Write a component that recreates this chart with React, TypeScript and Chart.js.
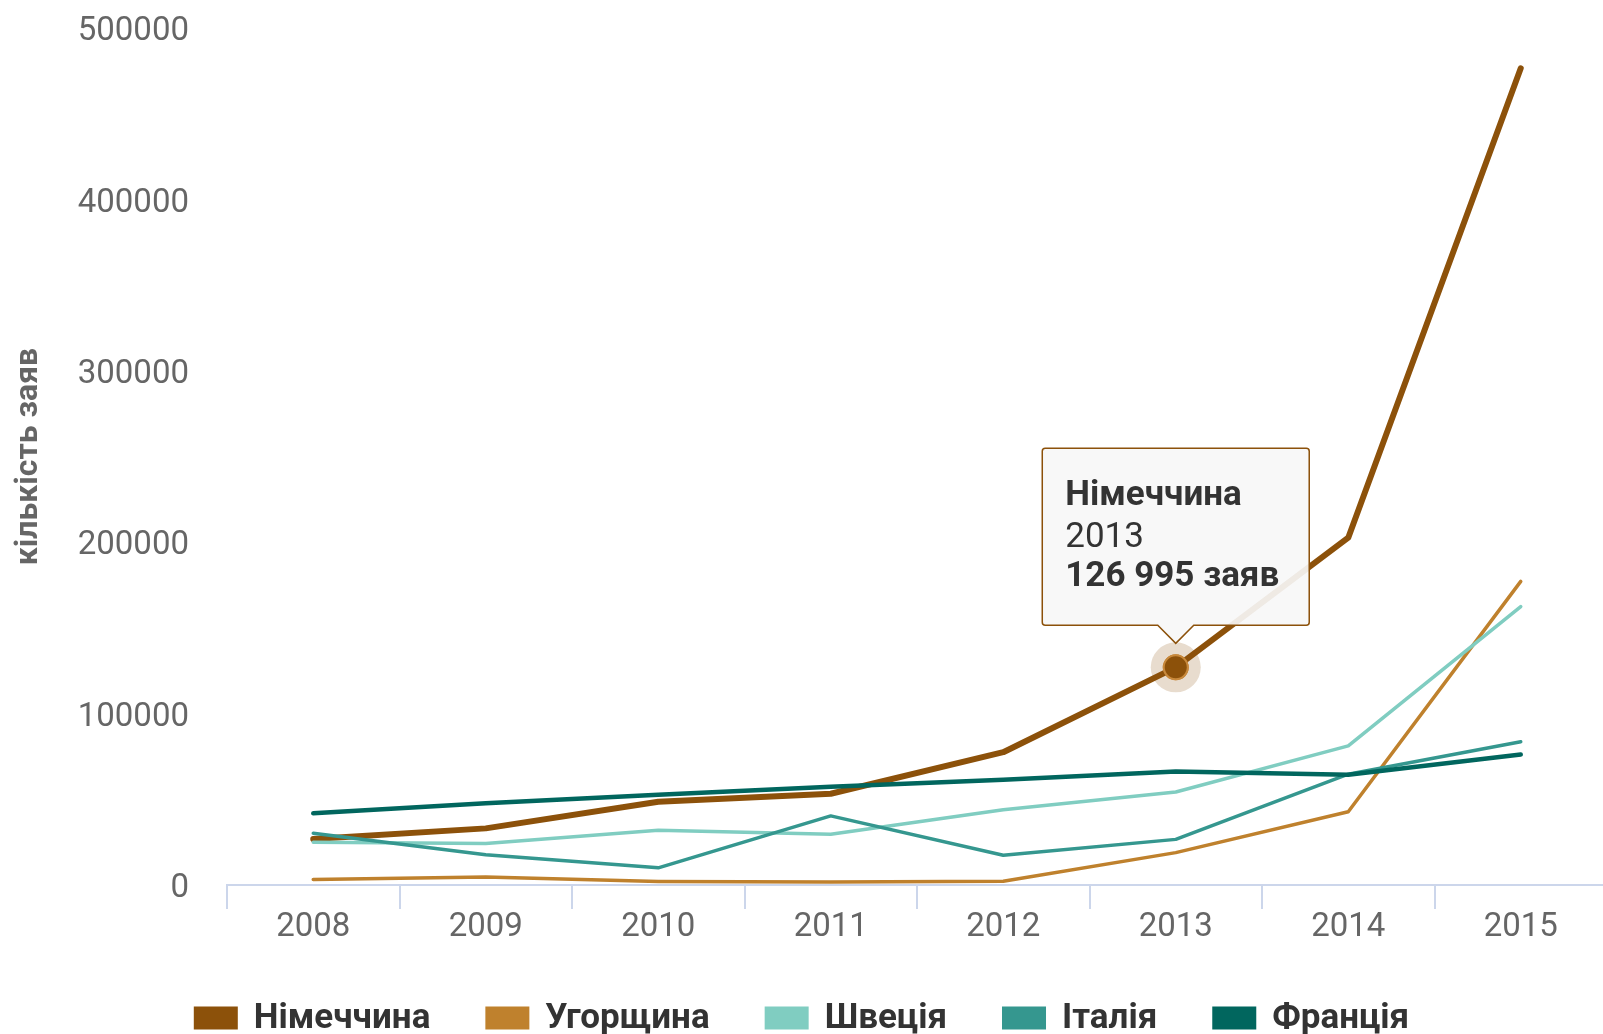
import React, { useEffect, useRef } from "react";
import { Chart, registerables } from "chart.js";

Chart.register(...registerables);

const categories = ["2008", "2009", "2010", "2011", "2012", "2013", "2014", "2015"];
const seriesNames = ["Німеччина", "Угорщина", "Швеція", "Італія", "Франція"];
const germany = [26845, 33035, 48590, 53235, 77485, 126995, 202645, 476510];
const hungary = [3175, 4675, 2105, 1690, 2155, 18895, 42775, 177135];
const sweden = [24875, 24260, 31940, 29650, 43855, 54270, 81180, 162450];
const italy = [30140, 17640, 10000, 40315, 17335, 26620, 64625, 83540];
const france = [41845, 47625, 52725, 57335, 61455, 66265, 64310, 76165];
const yTicks = [0, 100000, 200000, 300000, 400000, 500000];
const yTitle = "кількість заяв";
const unit = "заяв";
const highlighted = { datasetIndex: 0, index: 5 };

const colors = ["#8c510a", "#bf812d", "#80cdc1", "#35978f", "#01665e"];
const widths = [6, 3.5, 3.5, 3.5, 4.5];
const FONT = "Roboto";

const fmt = (v: number) => String(v).replace(/\B(?=(\d{3})+(?!\d))/g, " ");

const haloPlugin = {
  id: "halo",
  afterDatasetsDraw(chart: any) {
    const active = chart.getActiveElements();
    if (!active.length) return;
    const { datasetIndex, index } = active[0];
    const el = chart.getDatasetMeta(datasetIndex).data[index];
    const ctx = chart.ctx;
    ctx.save();
    ctx.beginPath();
    ctx.arc(el.x, el.y, 25, 0, Math.PI * 2);
    ctx.fillStyle = "rgba(140,81,10,0.2)";
    ctx.fill();
    ctx.restore();
    el.draw(ctx, chart.chartArea);
  },
};

const legendPlugin = {
  id: "customLegend",
  afterDraw(chart: any) {
    const ctx = chart.ctx;
    const boxW = 44;
    const boxH = 23;
    const gap = 16;
    const itemGap = 55;
    const cy = 1018;
    ctx.save();
    ctx.font = `bold 35px ${FONT}`;
    const items = chart.data.datasets.map((d: any) => ({
      label: d.label,
      color: d.borderColor,
      w: boxW + gap + ctx.measureText(d.label).width,
    }));
    const total = items.reduce((s: number, it: any) => s + it.w, 0) + itemGap * (items.length - 1);
    let x = 801.5 - total / 2;
    ctx.textBaseline = "middle";
    ctx.textAlign = "left";
    for (const it of items) {
      ctx.fillStyle = it.color;
      ctx.fillRect(x, cy - boxH / 2, boxW, boxH);
      ctx.fillStyle = "#333333";
      ctx.fillText(it.label, x + boxW + gap, cy + 1);
      x += it.w + itemGap;
    }
    ctx.restore();
  },
};

export default function App() {
  const ref = useRef<HTMLCanvasElement>(null);

  useEffect(() => {
    if (!ref.current) return;
    const values = [germany, hungary, sweden, italy, france];
    const chart = new Chart(ref.current, {
      type: "line",
      data: {
        labels: categories,
        datasets: values.map((data, i) => ({
          label: seriesNames[i],
          data,
          borderColor: colors[i],
          backgroundColor: colors[i],
          borderWidth: widths[i],
          pointRadius: 0,
          pointHoverRadius: i === 0 ? 12 : 0,
          pointHoverBackgroundColor: colors[i],
          pointHoverBorderColor: "#c8893c",
          pointHoverBorderWidth: 2,
          borderCapStyle: "round",
          borderJoinStyle: "round",
          tension: 0,
          fill: false,
          order: values.length - i,
        })),
      },
      plugins: [haloPlugin, legendPlugin],
      options: {
        animation: false,
        responsive: true,
        maintainAspectRatio: false,
        events: [],
        layout: { padding: { top: 28, right: 3, bottom: 0, left: 0 } },
        plugins: {
          legend: { display: false },
          tooltip: {
            enabled: true,
            yAlign: "bottom",
            xAlign: "center",
            backgroundColor: "rgba(247,247,247,0.92)",
            borderColor: colors[0],
            borderWidth: 1.5,
            cornerRadius: 3,
            caretSize: 18,
            caretPadding: 24,
            displayColors: false,
            titleColor: "#333333",
            bodyColor: "#333333",
            footerColor: "#333333",
            titleFont: { family: FONT, size: 35, weight: "bold", lineHeight: 1 },
            bodyFont: { family: FONT, size: 35, weight: "normal", lineHeight: 1 },
            footerFont: { family: FONT, size: 35, weight: "bold", lineHeight: 1 },
            padding: { top: 30, bottom: 31, left: 23, right: 30 },
            titleMarginBottom: 7,
            footerMarginTop: 4,
            callbacks: {
              title: (items: any[]) => items[0].dataset.label,
              label: (item: any) => item.label,
              footer: (items: any[]) => `${fmt(items[0].parsed.y)} ${unit}`,
            },
          },
        },
        scales: {
          x: {
            type: "category",
            offset: true,
            grid: {
              offset: true,
              drawOnChartArea: false,
              drawTicks: true,
              tickLength: 24,
              color: "#ccd6eb",
              lineWidth: 2,
            },
            border: { display: true, color: "#ccd6eb", width: 2 },
            ticks: {
              font: { family: FONT, size: 33 },
              color: "#666666",
              padding: -1,
              maxRotation: 0,
              autoSkip: false,
            },
            afterFit: (s: any) => {
              s.height = 149;
            },
          },
          y: {
            min: yTicks[0],
            max: yTicks[yTicks.length - 1],
            afterBuildTicks: (s: any) => {
              s.ticks = yTicks.map((v) => ({ value: v }));
            },
            ticks: {
              font: { family: FONT, size: 33 },
              color: "#666666",
              padding: 0,
              labelOffset: 4,
              callback: (v: any) => String(v),
            },
            grid: { display: false, drawTicks: true, tickLength: 38 },
            border: { display: false },
            title: {
              display: true,
              text: yTitle,
              color: "#666666",
              font: { family: FONT, size: 32, weight: "bold" },
              padding: { top: 10, bottom: 0 },
            },
            afterFit: (s: any) => {
              s.width = 227;
            },
          },
        },
      },
    });
    const target = [highlighted];
    chart.setActiveElements(target);
    const el: any = chart.getDatasetMeta(highlighted.datasetIndex).data[highlighted.index];
    chart.tooltip!.setActiveElements(target, { x: el.x, y: el.y });
    chart.update();
    return () => chart.destroy();
  }, []);

  return (
    <div
      style={{
        position: "fixed",
        left: 0,
        top: 0,
        width: 1603,
        height: 1034,
        overflow: "hidden",
        background: "#ffffff",
      }}
    >
      <div style={{ position: "relative", width: 1610, height: 1034 }}>
        <canvas ref={ref} />
      </div>
    </div>
  );
}
